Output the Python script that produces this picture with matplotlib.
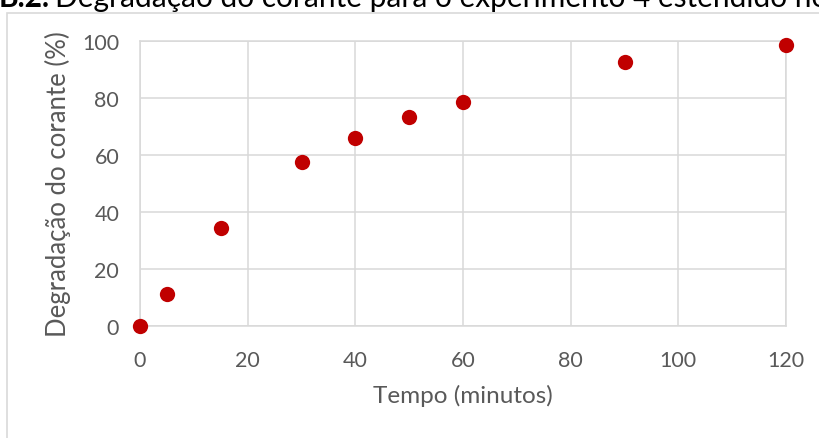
import matplotlib
matplotlib.use('Agg')
import matplotlib.pyplot as plt
from matplotlib.patches import Rectangle

plt.rcParams['font.family'] = ['Lato', 'DejaVu Sans']

# tempo de reação (min) e degradação do corante (%)
tempo = [0, 5, 15, 30, 40, 50, 60, 90, 120]
degradacao = [0, 11.3, 34.5, 57.5, 66.0, 73.2, 78.5, 92.5, 98.5]

x_ticks = [0, 20, 40, 60, 80, 100, 120]
y_ticks = [0, 20, 40, 60, 80, 100]

W, H = 820, 439
fig = plt.figure(figsize=(W / 100, H / 100), dpi=100)

# borda da área do gráfico (sai pela direita e por baixo)
fig.patches.append(Rectangle((7.5 / W, -0.1), 1.2, 1.1 - 13.5 / H,
                             transform=fig.transFigure, fill=False,
                             edgecolor='#d9d9d9', linewidth=1.2))

# título cortado no topo
t1 = fig.text(-1 / W, 1 - 7 / H, 'B.2.', fontsize=21.5, fontweight='bold',
              color='black', va='baseline', ha='left')
fig.canvas.draw()
bb = t1.get_window_extent()
fig.text((bb.x1 + 5) / W, 1 - 7 / H,
         'Degradação do corante para o experimento 4 estendido no',
         fontsize=21.5, color='black', va='baseline', ha='left')

ax = fig.add_axes([140 / W, 112 / H, (786 - 140) / W, (327 - 42) / H])
ax.scatter(tempo, degradacao, s=11 ** 2, color='#c00000', zorder=3,
           clip_on=False, linewidths=0)

ax.set_xlim(0, 120)
ax.set_ylim(0, 100)
ax.set_xticks(x_ticks)
ax.set_yticks(y_ticks)
ax.grid(True, color='#d9d9d9', linewidth=1.1)
ax.set_axisbelow(True)
for s in ax.spines.values():
    s.set_color('#d9d9d9')
    s.set_linewidth(1.1)
ax.tick_params(length=0, labelsize=15.5, labelcolor='#595959')
ax.tick_params(axis='x', pad=17)
ax.tick_params(axis='y', pad=15)

ax.set_xlabel('Tempo (minutos)', fontsize=17.5, color='#595959', labelpad=10)
ax.set_ylabel('Degradação do corante (%)', fontsize=18.5, color='#595959',
              labelpad=8)

fig.savefig('out.png', dpi=100)
